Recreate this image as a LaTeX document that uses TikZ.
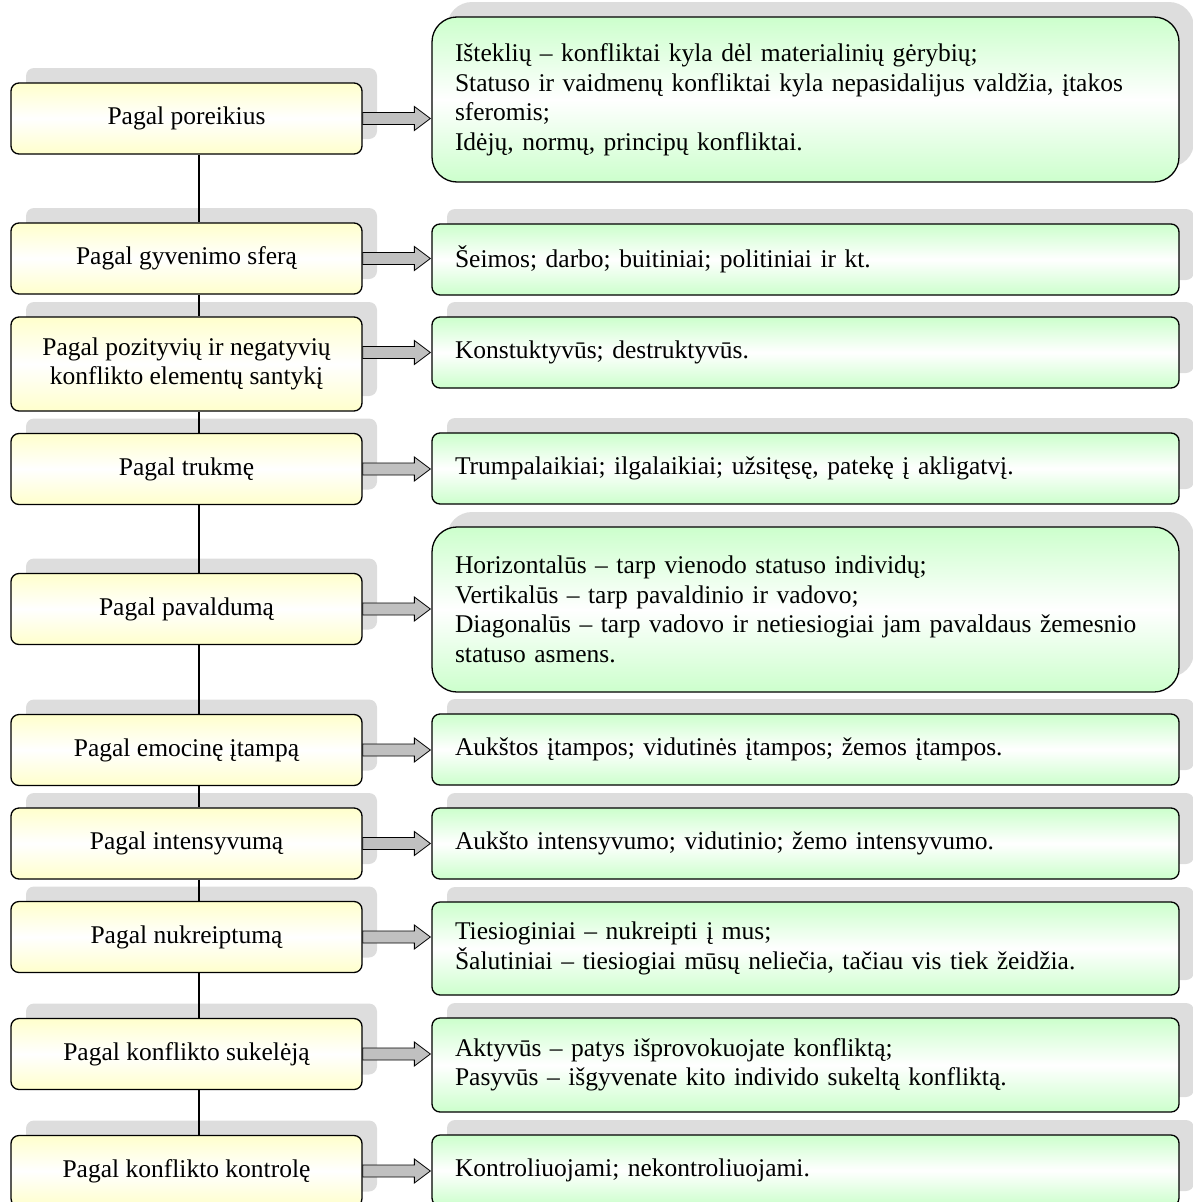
\documentclass[tikz,border=0pt]{standalone}
\usepackage{fontspec}
\setmainfont{Liberation Serif}
\usepackage{tikz}
\usetikzlibrary{calc}
\usetikzlibrary{shadows}
\definecolor{paleyellow}{HTML}{FFFFCC}
\definecolor{palegreen}{HTML}{CCFFCC}
\definecolor{shadowgray}{HTML}{DDDDDD}
\definecolor{arrowgray}{HTML}{C0C0C0}
\tikzset{
box shadow/.style = { general shadow = {fill = shadowgray, shadow xshift = 15pt, shadow yshift = 15pt} },
kind/.style = { rectangle, draw = black, line width = 1.3pt, rounded corners = 8pt, top color = paleyellow, bottom color = paleyellow, middle color = white, box shadow, minimum width = 351pt, minimum height = 71pt, align = center, inner sep = 0pt },
types/.style = { rectangle, draw = black, line width = 1.3pt, rounded corners = 8pt, top color = palegreen, bottom color = palegreen, middle color = white, box shadow, minimum height = 71pt, text width = 701pt, align = left, inner xsep = 23pt, inner ysep = 0pt },
big types/.style = { types, rounded corners = 25pt, minimum height = 165pt },
fat arrow/.style = { draw = black, line width = 0.8pt, fill = arrowgray },
spine/.style = { draw = black, line width = 1.2pt },
}
\newcommand{\fatarrow}[2]{%
  \path[fat arrow] let \p1 = (#1), \p2 = (#2) in
    (\x1, \y1 + 6pt) -- (\x2 - 17pt, \y1 + 6pt) -- (\x2 - 17pt, \y1 + 12pt) -- (\x2 - 1pt, \y1)
    -- (\x2 - 17pt, \y1 - 12pt) -- (\x2 - 17pt, \y1 - 6pt) -- (\x1, \y1 - 6pt) -- cycle;}

\begin{document}
\begin{tikzpicture}[x = 1pt, y = -1pt, font = \fontsize{25.5pt}{29.5pt}\selectfont]
      \useasboundingbox (0, 0) rectangle (1192, 1202);
      % kinds of conflicts
      \node[kind] (l1) at (186.5, 118.5) {Pagal poreikius};
      \node[kind] (l2) at (186.5, 258.5) {Pagal gyvenimo sferą};
      \node[kind, minimum height = 94pt] (l3) at (186.5, 364) {Pagal pozityvių ir negatyvių\\konflikto elementų santykį};
      \node[kind] (l4) at (186.5, 469) {Pagal trukmę};
      \node[kind] (l5) at (186.5, 609) {Pagal pavaldumą};
      \node[kind] (l6) at (186.5, 750) {Pagal emocinę įtampą};
      \node[kind] (l7) at (186.5, 843.5) {Pagal intensyvumą};
      \node[kind] (l8) at (186.5, 937) {Pagal nukreiptumą};
      \node[kind] (l9) at (186.5, 1054) {Pagal konflikto sukelėją};
      \node[kind] (l10) at (186.5, 1171) {Pagal konflikto kontrolę};
      % what each kind contains
      \node[big types] (r1) at (805.5, 99.5) {Išteklių – konfliktai kyla dėl materialinių gėrybių;\\Statuso ir vaidmenų konfliktai kyla nepasidalijus valdžia, įtakos\\sferomis;\\Idėjų, normų, principų konfliktai.};
      \node[types] (r2) at (805.5, 259.5) {Šeimos; darbo; buitiniai; politiniai ir kt.};
      \node[types] (r3) at (805.5, 352.5) {Konstuktyvūs; destruktyvūs.};
      \node[types] (r4) at (805.5, 468.5) {Trumpalaikiai; ilgalaikiai; užsitęsę, patekę į akligatvį.};
      \node[big types] (r5) at (805.5, 609.5) {Horizontalūs – tarp vienodo statuso individų;\\Vertikalūs – tarp pavaldinio ir vadovo;\\Diagonalūs – tarp vadovo ir netiesiogiai jam pavaldaus žemesnio\\statuso asmens.};
      \node[types] (r6) at (805.5, 749.5) {Aukštos įtampos; vidutinės įtampos; žemos įtampos.};
      \node[types] (r7) at (805.5, 843.5) {Aukšto intensyvumo; vidutinio; žemo intensyvumo.};
      \node[types, minimum height = 93pt] (r8) at (805.5, 948.5) {Tiesioginiai – nukreipti į mus;\\Šalutiniai – tiesiogiai mūsų neliečia, tačiau vis tiek žeidžia.};
      \node[types, minimum height = 94pt] (r9) at (805.5, 1065) {Aktyvūs – patys išprovokuojate konfliktą;\\Pasyvūs – išgyvenate kito individo sukeltą konfliktą.};
      \node[types] (r10) at (805.5, 1170.5) {Kontroliuojami; nekontroliuojami.};
      \begin{scope}[every path/.style = {spine}]
        \draw ([xshift = 12.5pt]l1.south) -- ([xshift = 12.5pt]l2.north);
        \draw ([xshift = 12.5pt]l2.south) -- ([xshift = 12.5pt]l3.north);
        \draw ([xshift = 12.5pt]l3.south) -- ([xshift = 12.5pt]l4.north);
        \draw ([xshift = 12.5pt]l4.south) -- ([xshift = 12.5pt]l5.north);
        \draw ([xshift = 12.5pt]l5.south) -- ([xshift = 12.5pt]l6.north);
        \draw ([xshift = 12.5pt]l6.south) -- ([xshift = 12.5pt]l7.north);
        \draw ([xshift = 12.5pt]l7.south) -- ([xshift = 12.5pt]l8.north);
        \draw ([xshift = 12.5pt]l8.south) -- ([xshift = 12.5pt]l9.north);
        \draw ([xshift = 12.5pt]l9.south) -- ([xshift = 12.5pt]l10.north);
      \end{scope}
      \fatarrow{l1.east}{r1.west}
      \fatarrow{l2.east}{r2.west}
      \fatarrow{l3.east |- r3.west}{r3.west}
      \fatarrow{l4.east}{r4.west}
      \fatarrow{l5.east}{r5.west}
      \fatarrow{l6.east}{r6.west}
      \fatarrow{l7.east}{r7.west}
      \fatarrow{l8.east}{r8.west}
      \fatarrow{l9.east}{r9.west}
      \fatarrow{l10.east}{r10.west}
\end{tikzpicture}
\end{document}
